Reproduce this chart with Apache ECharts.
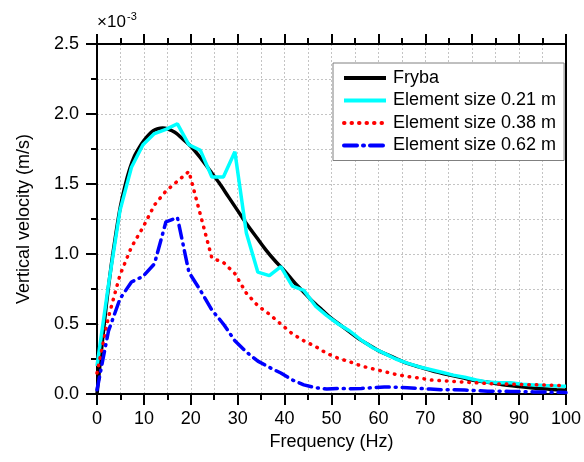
<!DOCTYPE html>
<html>
<head>
<meta charset="utf-8">
<script src="https://cdn.jsdelivr.net/npm/echarts@6/dist/echarts.min.js"></script>
<style>
html,body{margin:0;padding:0;background:#fff;}
#chart{width:584px;height:462px;}
</style>
</head>
<body>
<div id="chart"></div>
<script>
// ---- data (velocity in units of 1e-3 m/s) ----
var seriesNames = ['Fryba', 'Element size 0.21 m', 'Element size 0.38 m', 'Element size 0.62 m'];

var frybaFreq = [0,1,2,3,4,5,6,7,8,9,10,11,12,13,14,15,16,17,18,19,20,22,24,26,28,30,32,34,36,38,40,42,44,46,48,50,52,54,56,58,60,62,64,66,68,70,72,74,76,78,80,82,84,86,88,90,92,94,96,98,100];
var frybaVel = [0,0.33,0.64,0.91,1.14,1.34,1.49,1.61,1.70,1.76,1.81,1.85,1.88,1.895,1.90,1.895,1.88,1.86,1.83,1.80,1.77,1.69,1.60,1.51,1.41,1.31,1.21,1.12,1.03,0.95,0.88,0.80,0.73,0.66,0.60,0.54,0.49,0.44,0.39,0.35,0.31,0.28,0.25,0.22,0.20,0.18,0.16,0.145,0.13,0.115,0.10,0.09,0.08,0.07,0.06,0.053,0.046,0.04,0.035,0.03,0.026];

var feFreq = [0,2.45,4.9,7.35,9.8,12.25,14.7,17.15,19.6,22.05,24.5,26.95,29.4,31.85,34.3,36.75,39.2,41.65,44.1,46.55,49,51.45,53.9,56.35,58.8,61.25,63.7,66.15,68.6,71.05,73.5,75.95,78.4,80.85,83.3,85.75,88.2,90.65,93.1,95.55,98,100];
var vel021 = [0.2,0.78,1.31,1.62,1.78,1.86,1.89,1.93,1.78,1.74,1.55,1.55,1.73,1.15,0.87,0.845,0.91,0.77,0.74,0.63,0.56,0.50,0.45,0.385,0.33,0.29,0.25,0.22,0.195,0.175,0.155,0.135,0.12,0.10,0.085,0.08,0.08,0.07,0.065,0.06,0.057,0.055];
var vel038 = [0.15,0.55,0.85,1.05,1.19,1.35,1.45,1.52,1.59,1.28,0.97,0.94,0.86,0.72,0.63,0.57,0.50,0.43,0.38,0.34,0.29,0.255,0.23,0.20,0.18,0.16,0.14,0.125,0.115,0.10,0.095,0.09,0.085,0.08,0.075,0.072,0.07,0.068,0.066,0.064,0.062,0.06];
var vel062 = [0.03,0.45,0.68,0.80,0.84,0.93,1.23,1.26,0.87,0.74,0.60,0.50,0.38,0.30,0.235,0.19,0.15,0.10,0.065,0.045,0.035,0.04,0.037,0.04,0.045,0.05,0.048,0.045,0.04,0.035,0.03,0.03,0.028,0.025,0.02,0.02,0.018,0.017,0.015,0.014,0.012,0.01];

var xTitle = 'Frequency (Hz)';
var yTitle = 'Vertical velocity (m/s)';
var scaleMain = '\u00d710';
var scaleExp = '-3';

function pairs(xs, ys) { return xs.map(function (x, i) { return [x, ys[i]]; }); }

var FONT = 'Liberation Sans, Arial, sans-serif';
var chart = echarts.init(document.getElementById('chart'), null, {renderer: 'canvas'});

var gridLine = {show: true, lineStyle: {color: '#c4c4c4', width: 1, type: [2, 2]}};

chart.setOption({
  animation: false,
  backgroundColor: '#fff',
  textStyle: {fontFamily: FONT, color: '#000'},
  grid: {left: 97, top: 44, width: 470, height: 350, containLabel: false},
  graphic: [
    {type: 'text', left: 97, top: 14, style: {text: scaleMain, font: '17px ' + FONT, fill: '#000'}},
    {type: 'text', left: 127, top: 11, style: {text: scaleExp, font: '11px ' + FONT, fill: '#000'}}
  ],
  legend: {
    orient: 'vertical',
    left: 333, top: 63,
    width: 230,
    backgroundColor: '#fff',
    borderColor: '#808080', borderWidth: 1,
    padding: [6, 8, 6, 9],
    itemGap: 4.5,
    itemWidth: 42, itemHeight: 18,
    itemStyle: {opacity: 0},
    lineStyle: {width: 4},
    textStyle: {fontSize: 18, fontFamily: FONT, color: '#000', padding: [0, 0, 0, 2]},
    data: seriesNames
  },
  xAxis: [{
    type: 'value', min: 0, max: 100, interval: 10,
    name: xTitle, nameLocation: 'middle', nameGap: 38,
    nameTextStyle: {fontSize: 18, fontFamily: FONT, color: '#000'},
    axisLine: {show: true, onZero: false, lineStyle: {color: '#000', width: 2}},
    axisTick: {show: true, inside: false, length: 11, lineStyle: {color: '#000', width: 2}},
    minorTick: {show: true, splitNumber: 2, length: 6, lineStyle: {color: '#000', width: 2}},
    axisLabel: {fontSize: 18, fontFamily: FONT, color: '#000', margin: 16},
    splitLine: gridLine,
    minorSplitLine: gridLine
  }, {
    type: 'value', position: 'top', min: 0, max: 100, interval: 10,
    axisLine: {show: true, onZero: false, lineStyle: {color: '#000', width: 2}},
    axisTick: {show: true, inside: false, length: 10, lineStyle: {color: '#000', width: 2}},
    minorTick: {show: true, splitNumber: 2, length: 6, lineStyle: {color: '#000', width: 2}},
    axisLabel: {show: false},
    splitLine: {show: false}
  }],
  yAxis: [{
    type: 'value', min: 0, max: 2.5, interval: 0.5,
    name: yTitle, nameLocation: 'middle', nameGap: 64, nameRotate: 90,
    nameTextStyle: {fontSize: 18, fontFamily: FONT, color: '#000'},
    axisLine: {show: true, onZero: false, lineStyle: {color: '#000', width: 2}},
    axisTick: {show: true, inside: false, length: 11, lineStyle: {color: '#000', width: 2}},
    minorTick: {show: true, splitNumber: 2, length: 6, lineStyle: {color: '#000', width: 2}},
    axisLabel: {fontSize: 18, fontFamily: FONT, color: '#000', margin: 18,
      formatter: function (v) { return v.toFixed(1); }},
    splitLine: gridLine,
    minorSplitLine: gridLine
  }, {
    type: 'value', position: 'right', min: 0, max: 2.5, interval: 0.5,
    axisLine: {show: true, onZero: false, lineStyle: {color: '#000', width: 2}},
    axisTick: {show: false}, axisLabel: {show: false}, splitLine: {show: false}
  }],
  series: [
    {name: seriesNames[0], type: 'line', data: pairs(frybaFreq, frybaVel), smooth: 0.3, symbol: 'none',
      lineStyle: {color: '#000', width: 3.5}, itemStyle: {color: '#000'}},
    {name: seriesNames[1], type: 'line', data: pairs(feFreq, vel021), symbol: 'none',
      lineStyle: {color: '#00ffff', width: 3.5}, itemStyle: {color: '#00ffff'}},
    {name: seriesNames[2], type: 'line', data: pairs(feFreq, vel038), symbol: 'none',
      lineStyle: {color: '#ff0000', width: 3.5, type: [0.5, 7], cap: 'round'}, itemStyle: {color: '#ff0000'}},
    {name: seriesNames[3], type: 'line', data: pairs(feFreq, vel062), symbol: 'none',
      lineStyle: {color: '#0000ff', width: 3.5, type: [13, 6, 1, 6], cap: 'round'}, itemStyle: {color: '#0000ff'}}
  ]
});
</script>
</body>
</html>
